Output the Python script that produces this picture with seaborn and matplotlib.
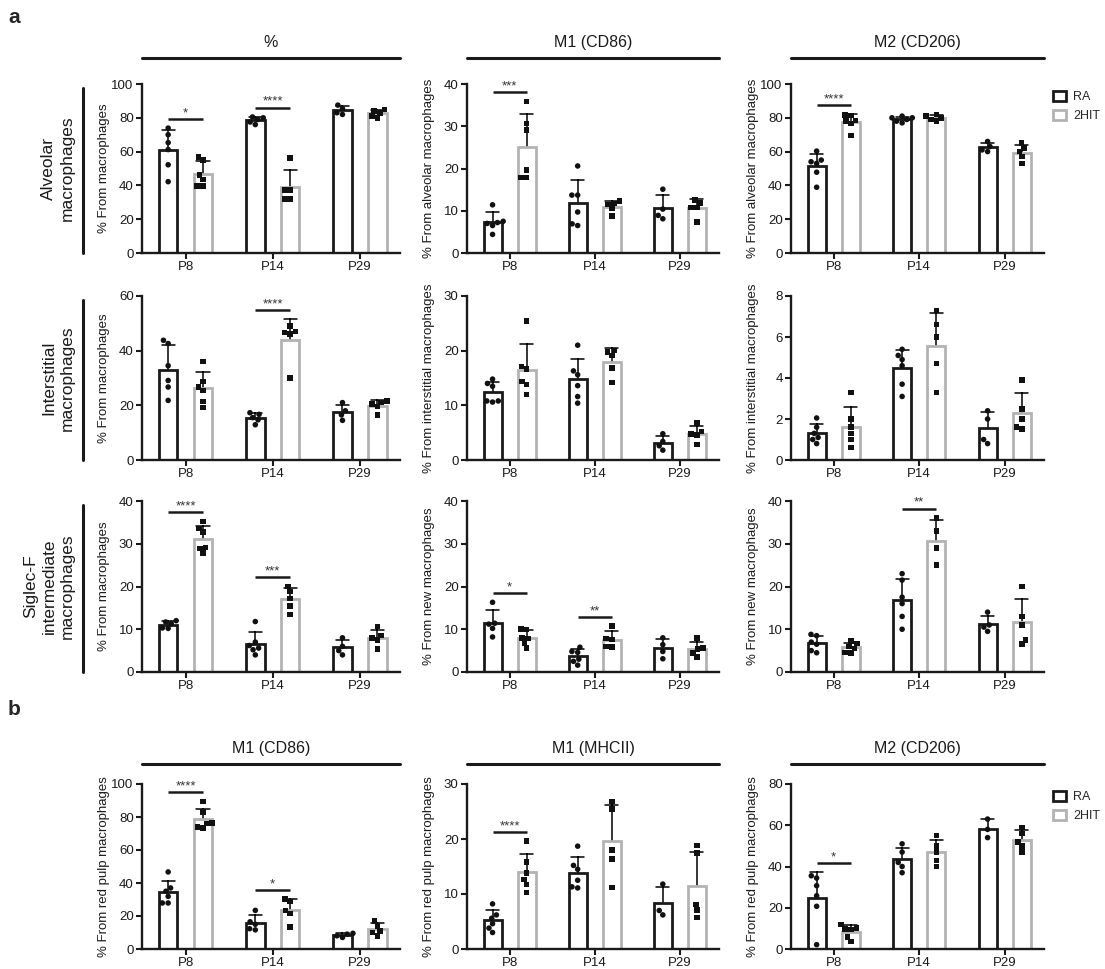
import warnings
import matplotlib
matplotlib.use("Agg")
import matplotlib.pyplot as plt
from matplotlib.lines import Line2D
from matplotlib.patches import Patch
import numpy as np
import pandas as pd
import seaborn as sns

warnings.filterwarnings("ignore")

sns.set_theme(style="ticks")
plt.rcParams["font.family"] = ["Liberation Sans", "DejaVu Sans"]

ages = ["P8", "P14", "P29"]
groups = ["RA", "2HIT"]
edge_colors = ["#1a1a1a", "#b3b3b3"]

# ---- a: lung macrophages (values per mouse, one list per age) ----
alv_pct_ra = [[73.9, 70.0, 65.3, 61.2, 52.2, 42.2], [80.5, 80.0, 79.0, 77.5, 76.0], [87.5, 85.5, 83.0, 82.0]]
alv_pct_2hit = [[56.9, 54.9, 46.1, 43.5, 39.6, 39.6], [56.3, 37.3, 37.3, 31.8, 31.8], [85.0, 84.0, 83.0, 81.0, 80.0]]
alv_m1_ra = [[11.4, 7.5, 7.0, 7.2, 6.5, 4.4], [20.6, 13.7, 13.7, 9.7, 6.5, 6.9], [15.1, 10.4, 8.1, 8.9]]
alv_m1_2hit = [[35.9, 30.7, 29.1, 19.6, 17.9, 17.9], [12.3, 11.7, 11.5, 10.5, 8.7], [12.6, 11.9, 10.8, 10.8, 7.3]]
alv_m2_ra = [[60.3, 54.0, 53.0, 55.0, 47.8, 38.9], [81.0, 80.0, 80.0, 79.0, 78.0, 77.0], [66.0, 63.0, 61.0, 60.0]]
alv_m2_2hit = [[81.4, 81.6, 78.5, 78.1, 76.5, 69.6], [82.0, 81.0, 80.0, 79.0, 78.0], [65.0, 62.0, 60.0, 57.0, 53.0]]

int_pct_ra = [[43.8, 42.6, 34.5, 29.1, 26.7, 21.8], [17.3, 16.7, 15.5, 14.7, 12.9], [21.0, 18.0, 16.5, 14.5]]
int_pct_2hit = [[36.1, 28.8, 26.7, 25.5, 21.4, 19.2], [49.0, 46.7, 47.0, 46.1, 30.0], [21.5, 21.0, 20.5, 19.5, 16.5]]
int_m1_ra = [[14.8, 14.0, 13.5, 10.8, 10.6, 10.8], [21.0, 15.6, 16.3, 13.6, 11.6, 10.4], [4.8, 3.4, 2.6, 1.8]]
int_m1_2hit = [[25.4, 16.6, 17.1, 14.4, 13.8, 12.0], [20.0, 19.8, 19.1, 16.8, 14.2], [6.8, 5.2, 4.8, 4.6, 2.8]]
int_m2_ra = [[2.05, 1.6, 1.3, 1.1, 1.0, 0.8], [5.4, 5.1, 4.9, 4.6, 3.7, 3.1], [2.4, 2.0, 1.0, 0.8]]
int_m2_2hit = [[3.3, 2.0, 1.6, 1.3, 1.0, 0.6], [7.3, 6.6, 6.0, 4.7, 3.3], [3.9, 2.5, 2.0, 1.6, 1.5]]

sig_pct_ra = [[12.0, 11.7, 11.3, 10.3, 10.2], [11.8, 7.0, 6.2, 5.6, 5.2, 4.0], [8.0, 6.0, 5.0, 4.0]]
sig_pct_2hit = [[35.2, 33.6, 32.7, 29.1, 27.8, 28.9], [20.0, 18.8, 17.2, 15.4, 13.5], [10.6, 8.5, 8.0, 7.5, 5.4]]
sig_m1_ra = [[16.3, 11.4, 11.2, 10.2, 8.2], [5.8, 4.8, 4.6, 3.0, 2.5, 1.6], [8.0, 6.4, 4.8, 3.1]]
sig_m1_2hit = [[10.1, 9.9, 8.0, 7.8, 6.8, 5.6], [10.7, 7.8, 7.6, 6.0, 5.8], [8.0, 5.6, 5.4, 4.5, 3.5]]
sig_m2_ra = [[8.8, 8.5, 7.0, 6.5, 5.0, 4.5], [23.0, 21.5, 17.5, 16.0, 13.0, 10.0], [14.0, 11.0, 10.5, 9.5]]
sig_m2_2hit = [[7.3, 6.7, 6.0, 5.5, 4.6, 4.5], [36.0, 33.0, 29.0, 25.0], [20.0, 13.0, 11.0, 7.5, 6.5]]

# ---- b: red pulp macrophages ----
rp_m1_ra = [[46.7, 37.0, 35.0, 31.9, 27.9, 27.9], [23.4, 16.5, 15.0, 12.3, 11.6], [9.5, 9.0, 8.0, 7.0]]
rp_m1_2hit = [[89.5, 83.0, 76.5, 76.0, 74.0, 73.3], [30.3, 28.9, 23.4, 21.4, 13.3], [17.0, 14.0, 11.0, 10.0, 8.0]]
rp_mhc_ra = [[8.2, 6.2, 5.6, 4.6, 3.8, 3.0], [18.7, 15.2, 14.5, 12.5, 11.3, 11.1], [11.8, 7.0, 6.2]]
rp_mhc_2hit = [[19.6, 15.8, 13.8, 12.6, 11.7, 10.3], [26.8, 25.5, 18.0, 16.4, 11.2], [18.8, 17.5, 8.1, 7.1, 5.7]]
rp_m2_ra = [[35.5, 34.4, 30.7, 25.8, 20.7, 2.1], [51.0, 47.0, 42.0, 40.0, 37.0], [63.0, 58.0, 54.0]]
rp_m2_2hit = [[11.8, 10.2, 9.8, 9.5, 5.8, 3.6], [55.0, 50.0, 47.0, 43.0, 40.0], [59.0, 56.0, 52.0, 50.0, 47.0]]

# significance marks: (age, stars)
sig_alv_pct = [("P8", "*"), ("P14", "****")]
sig_alv_m1 = [("P8", "***")]
sig_alv_m2 = [("P8", "****")]
sig_int_pct = [("P14", "****")]
sig_sig_pct = [("P8", "****"), ("P14", "***")]
sig_sig_m1 = [("P8", "*"), ("P14", "**")]
sig_sig_m2 = [("P14", "**")]
sig_rp_m1 = [("P8", "****"), ("P14", "*")]
sig_rp_mhc = [("P8", "****")]
sig_rp_m2 = [("P8", "*")]

col_headers_a = ["%", "M1 (CD86)", "M2 (CD206)"]
col_headers_b = ["M1 (CD86)", "M1 (MHCII)", "M2 (CD206)"]
row_labels_a = ["Alveolar\nmacrophages", "Interstitial\nmacrophages", "Siglec-F\nintermediate\nmacrophages"]

W, H = 1105, 969
fig = plt.figure(figsize=(W / 100, H / 100), dpi=100)

# column extents (pixels) and row extents (top of y-range, zero line)
cols = [(142, 400), (467, 719), (791, 1044)]
rows_a = [(84, 253), (296, 460), (501, 672)]
row_b = (784, 949)


def add_axes_px(x0, x1, ytop, ybot):
    return fig.add_axes([x0 / W, 1 - ybot / H, (x1 - x0) / W, (ybot - ytop) / H])


def long_table(ra, hit):
    recs = []
    for grp, series in zip(groups, (ra, hit)):
        for age, vals in zip(ages, series):
            recs += [(age, grp, v) for v in vals]
    return pd.DataFrame(recs, columns=["age", "group", "value"])


def draw_panel(ax, ra, hit, ymax, step, ylabel, marks):
    df = long_table(ra, hit)
    sns.barplot(data=df, x="age", y="value", hue="group", order=ages, hue_order=groups,
                errorbar="sd", width=0.8, gap=0.47, capsize=0.3,
                palette={"RA": "white", "2HIT": "white"}, linewidth=2.0,
                err_kws={"color": "black", "linewidth": 1.1}, legend=False, ax=ax)
    for cont, ec in zip(ax.containers, edge_colors):
        for bar in cont:
            bar.set_edgecolor(ec)
            bar.set_zorder(2.5)
    for grp, mk in zip(groups, ["o", "s"]):
        sns.swarmplot(data=df[df["group"] == grp], x="age", y="value", hue="group",
                      order=ages, hue_order=groups, dodge=True, marker=mk,
                      palette={"RA": "#111111", "2HIT": "#111111"}, size=4.0,
                      linewidth=0, legend=False, ax=ax, zorder=3)
    # significance bars between the paired bar centres
    for age, stars in marks:
        i = ages.index(age)
        xa = ax.containers[0][i].get_x() + ax.containers[0][i].get_width() / 2
        xb = ax.containers[1][i].get_x() + ax.containers[1][i].get_width() / 2
        top = 0
        for series in (ra, hit):
            v = np.asarray(series[i])
            top = max(top, v.max(), v.mean() + v.std(ddof=1))
        yl = top + 0.055 * ymax
        ax.plot([xa, xb], [yl, yl], color="#1a1a1a", lw=1.8, solid_capstyle="butt",
                clip_on=False, zorder=4)
        ax.annotate(stars, xy=((xa + xb) / 2, yl), xytext=(0, 2.0), textcoords="offset points",
                    ha="center", va="baseline", fontsize=9.5, color="#333333",
                    annotation_clip=False)
    ax.set_xlim(-0.5, 2.46)
    ax.set_ylim(0, ymax)
    ax.set_yticks(np.arange(0, ymax + step / 2, step))
    ax.set_xlabel("")
    ax.set_ylabel(ylabel, fontsize=9.5, color="#1a1a1a")
    ax.yaxis.set_label_coords(-32 / (ax.get_position().width * W), 0.5)
    sns.despine(ax=ax)
    for side in ("left", "bottom"):
        ax.spines[side].set_linewidth(1.7)
        ax.spines[side].set_color("#1a1a1a")
    ax.tick_params(axis="both", labelsize=9.5, width=1.5, length=4, color="#1a1a1a",
                   labelcolor="#1a1a1a", pad=2)
    ax.set_facecolor("none")


panels_a = [
    [(alv_pct_ra, alv_pct_2hit, 100, 20, "% From macrophages", sig_alv_pct),
     (alv_m1_ra, alv_m1_2hit, 40, 10, "% From alveolar macrophages", sig_alv_m1),
     (alv_m2_ra, alv_m2_2hit, 100, 20, "% From alveolar macrophages", sig_alv_m2)],
    [(int_pct_ra, int_pct_2hit, 60, 20, "% From macrophages", sig_int_pct),
     (int_m1_ra, int_m1_2hit, 30, 10, "% From interstitial macrophages", []),
     (int_m2_ra, int_m2_2hit, 8, 2, "% From interstitial macrophages", [])],
    [(sig_pct_ra, sig_pct_2hit, 40, 10, "% From macrophages", sig_sig_pct),
     (sig_m1_ra, sig_m1_2hit, 40, 10, "% From new macrophages", sig_sig_m1),
     (sig_m2_ra, sig_m2_2hit, 40, 10, "% From new macrophages", sig_sig_m2)],
]
panels_b = [
    (rp_m1_ra, rp_m1_2hit, 100, 20, "% From red pulp macrophages", sig_rp_m1),
    (rp_mhc_ra, rp_mhc_2hit, 30, 10, "% From red pulp macrophages", sig_rp_mhc),
    (rp_m2_ra, rp_m2_2hit, 80, 20, "% From red pulp macrophages", sig_rp_m2),
]

for (ytop, ybot), row_specs, label in zip(rows_a, panels_a, row_labels_a):
    for (x0, x1), spec in zip(cols, row_specs):
        draw_panel(add_axes_px(x0, x1, ytop, ybot), *spec)
    fig.text(75 / W, 1 - (ytop + ybot) / 2 / H, label, rotation=90, ha="right", va="center",
             fontsize=12.5, linespacing=1.3, multialignment="center", color="#1a1a1a")
    fig.add_artist(Line2D([83 / W, 83 / W], [1 - (ytop + 4) / H, 1 - ybot / H],
                          color="#1a1a1a", lw=2.2))

for (x0, x1), spec in zip(cols, panels_b):
    draw_panel(add_axes_px(x0, x1, *row_b), *spec)


def column_headers(titles, y_line):
    for (x0, x1), t in zip(cols, titles):
        fig.add_artist(Line2D([x0 / W, x1 / W], [1 - y_line / H] * 2, color="#1a1a1a", lw=2.2))
        fig.text((x0 + x1) / 2 / W, 1 - (y_line - 8) / H, t, ha="center", va="bottom",
                 fontsize=11.5, color="#1a1a1a")


column_headers(col_headers_a, 58)
column_headers(col_headers_b, 764)

fig.text(8 / W, 1 - 8 / H, "a", fontsize=15, fontweight="bold", va="top", ha="left")
fig.text(8 / W, 1 - 700 / H, "b", fontsize=15, fontweight="bold", va="top", ha="left")

legend_handles = [Patch(facecolor="white", edgecolor=c, linewidth=2.0) for c in edge_colors]
for ytop in (rows_a[0][0], row_b[0]):
    fig.legend(legend_handles, groups, loc="upper left", bbox_to_anchor=(1048 / W, 1 - (ytop + 2) / H),
               frameon=False, fontsize=9, handlelength=1.0, handleheight=0.9,
               handletextpad=0.6, labelspacing=0.5, borderaxespad=0)

fig.savefig("out.png", dpi=100)
